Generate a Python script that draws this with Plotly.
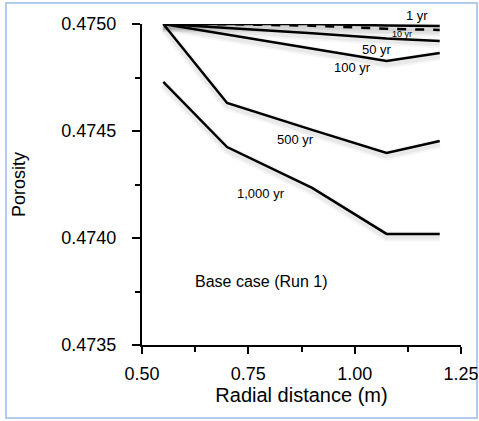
import plotly.graph_objects as go

radial = [0.55, 0.70, 0.90, 1.075, 1.20]
por_1yr = [0.47500, 0.47500, 0.47500, 0.474993, 0.474991]
por_10yr = [0.47500, 0.474999, 0.474992, 0.474978, 0.474972]
por_50yr = [0.47500, 0.474982, 0.474957, 0.474932, 0.474921]
por_100yr = [0.47500, 0.474951, 0.474885, 0.474827, 0.474864]
por_500yr = [0.47500, 0.474631, 0.474505, 0.474397, 0.474453]
por_1000yr = [0.474730, 0.474425, 0.474234, 0.474019, 0.474019]

series = [
    ("1 yr", por_1yr, "solid"),
    ("10 yr", por_10yr, "dash"),
    ("50 yr", por_50yr, "solid"),
    ("100 yr", por_100yr, "solid"),
    ("500 yr", por_500yr, "solid"),
    ("1,000 yr", por_1000yr, "solid"),
]

# label text, x, y, font size, vertical pixel shift
labels = [
    ("1 yr", 1.147, 0.47500, 13, 9),
    ("10 yr", 1.111, 0.474953, 9, 0),
    ("50 yr", 1.053, 0.474879, 13, 0),
    ("100 yr", 0.994, 0.474799, 13, 0),
    ("500 yr", 0.862, 0.474458, 13, 0),
    ("1,000 yr", 0.780, 0.474206, 13, 0),
    ("Base case (Run 1)", 0.780, 0.473799, 16, 0),
]

FONT = "Liberation Sans, Arial, sans-serif"

fig = go.Figure()

# soft drop shadows
for name, ys, dash in series:
    shadow = [v - 0.000012 for v in ys]
    for w, a in [(10, 0.035), (6, 0.05)]:
        fig.add_trace(go.Scatter(x=radial, y=shadow, mode="lines", cliponaxis=False,
                                 line=dict(color=f"rgba(0,0,0,{a})", width=w),
                                 hoverinfo="skip", showlegend=False))

for name, ys, dash in series:
    fig.add_trace(go.Scatter(x=radial, y=ys, mode="lines", name=name, cliponaxis=False,
                             line=dict(color="black", width=2.5, dash=dash),
                             showlegend=False))

for text, x, y, size, ys in labels:
    fig.add_annotation(x=x, y=y, text=text, showarrow=False, yshift=ys,
                       font=dict(family=FONT, size=size, color="#000000"))

fig.add_shape(type="rect", xref="paper", yref="paper",
              x0=(6 - 142) / 319, x1=(477 - 142) / 319,
              y0=-(418 - 345) / 321, y1=1 + (24 - 3) / 321,
              line=dict(color="#b4cbee", width=2), fillcolor="rgba(0,0,0,0)", layer="below")

fig.update_layout(
    width=479, height=421,
    margin=dict(l=142, r=18, t=24, b=76, autoexpand=False),
    paper_bgcolor="white", plot_bgcolor="white",
    font=dict(family=FONT, size=18, color="black"),
    xaxis=dict(range=[0.5, 1.25], tickvals=[0.5, 0.75, 1.0, 1.25],
               ticktext=["0.50", "0.75", "1.00", "1.25"], automargin=False,
               showgrid=False, zeroline=False, showline=True, linecolor="black", linewidth=2,
               ticks="outside", ticklen=7, tickwidth=2, tickcolor="black",
               minor=dict(dtick=0.125, ticks="outside", ticklen=5, tickwidth=2, tickcolor="black"),
               ticklabelstandoff=4,
               title=dict(text="Radial distance (m)", font=dict(size=20), standoff=0),
               tickfont=dict(size=18)),
    yaxis=dict(range=[0.4735, 0.4750], tickvals=[0.4735, 0.4740, 0.4745, 0.4750],
               ticktext=["0.4735", "0.4740", "0.4745", "0.4750"], automargin=False,
               showgrid=False, zeroline=False, showline=True, linecolor="black", linewidth=2,
               ticks="outside", ticklen=8, tickwidth=2, tickcolor="black",
               minor=dict(dtick=0.00025, ticks="outside", ticklen=5, tickwidth=2, tickcolor="black"),
               ticklabelstandoff=12,
               title=dict(text="Porosity", font=dict(size=18), standoff=31),
               tickfont=dict(size=18)),
)

fig.write_html("out.html")
